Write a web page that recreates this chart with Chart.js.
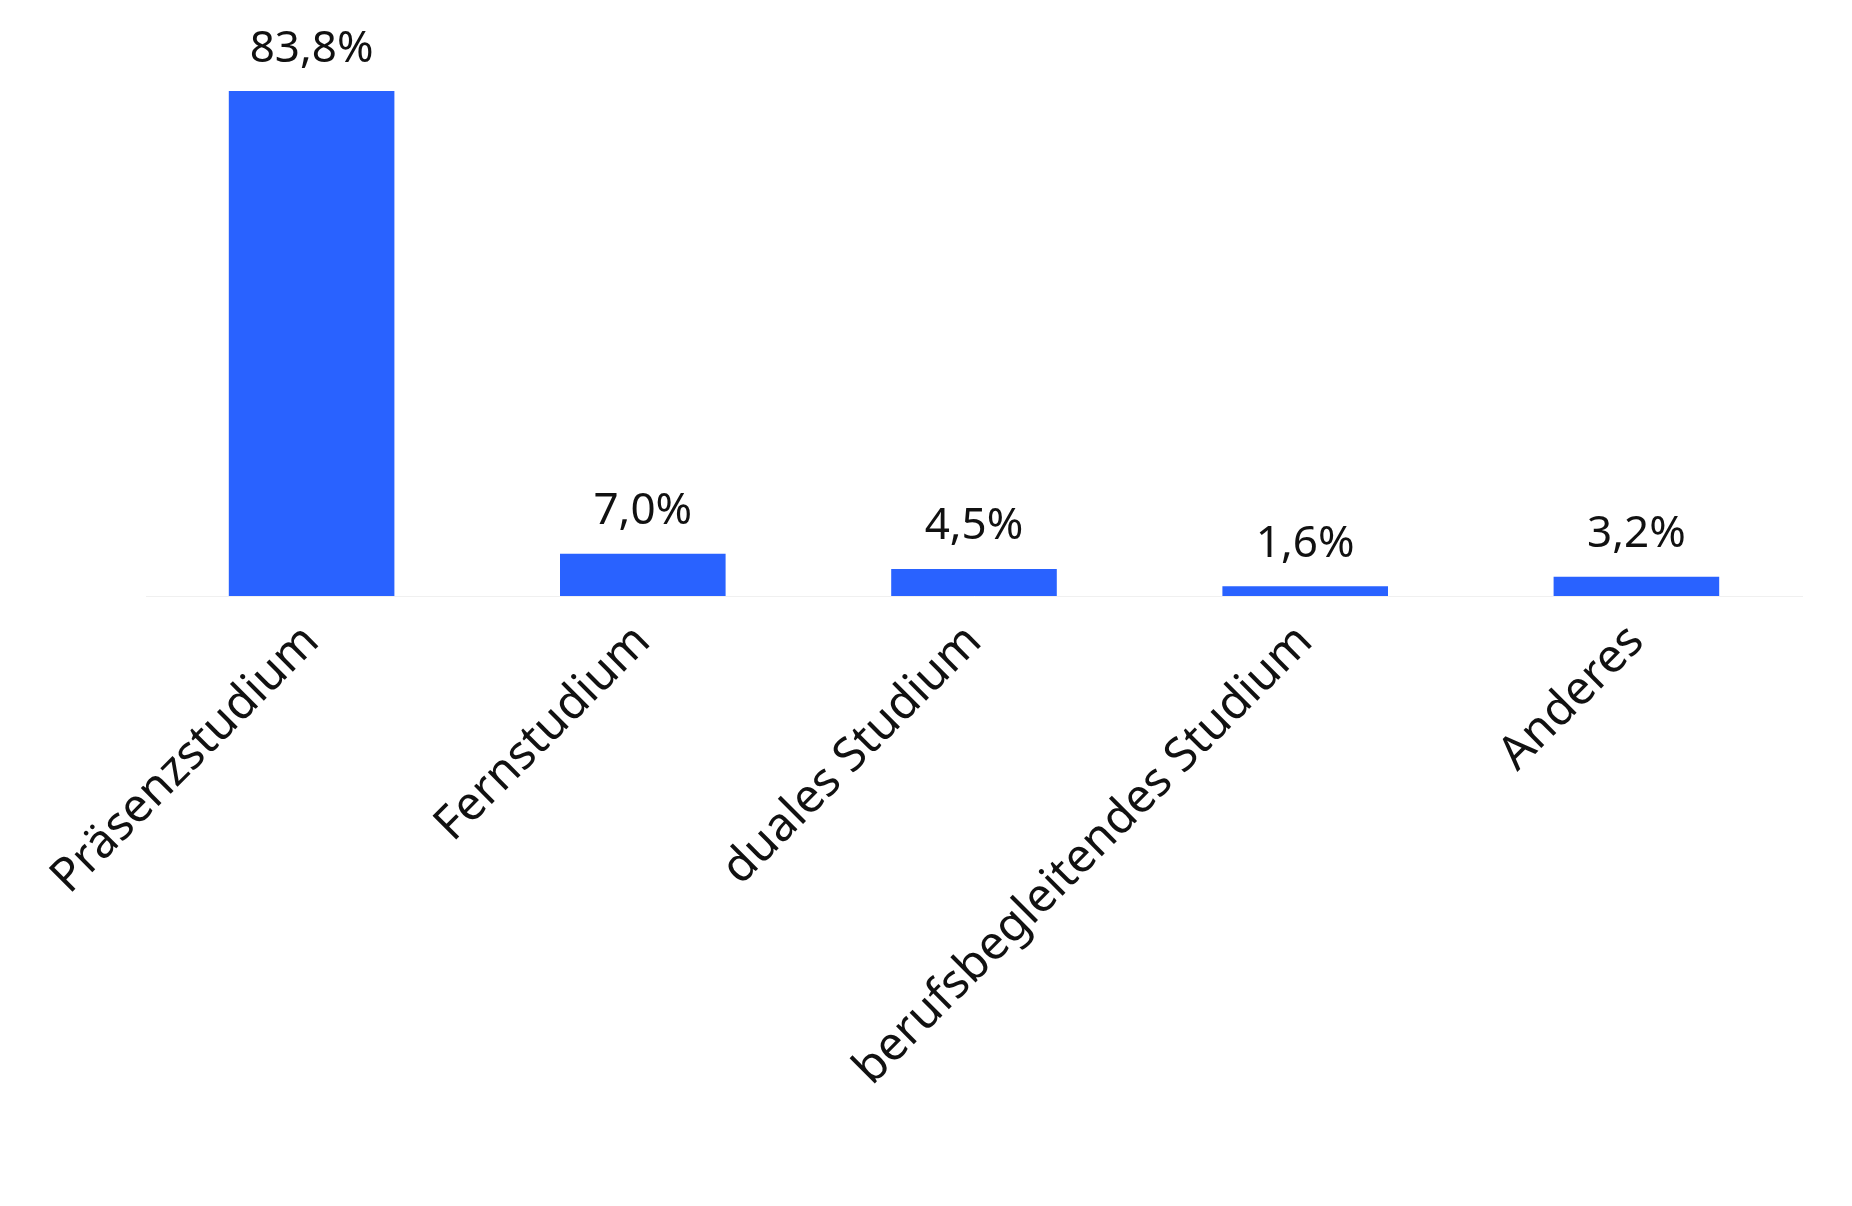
<!DOCTYPE html>
<html><head><meta charset="utf-8">
<script src="https://cdn.jsdelivr.net/npm/chart.js@4/dist/chart.umd.min.js"></script>
<style>html,body{margin:0;background:#fff}#wrap{width:1852px;height:1206px}</style>
</head><body><div id="wrap"><canvas id="c"></canvas></div>
<script>
const categories = ["Präsenzstudium", "Fernstudium", "duales Studium", "berufsbegleitendes Studium", "Anderes"];
const values = [83.8, 7.0, 4.5, 1.6, 3.2];
const valueLabels = ["83,8%", "7,0%", "4,5%", "1,6%", "3,2%"];

/* value labels above bars */
const topLabels = {
  id: "topLabels",
  afterDatasetsDraw(chart) {
    const ctx = chart.ctx;
    ctx.save();
    ctx.font = "44px 'Noto Sans'";
    ctx.fillStyle = "#111";
    ctx.textAlign = "center";
    ctx.textBaseline = "bottom";
    chart.getDatasetMeta(0).data.forEach((b, i) => {
      ctx.fillText(valueLabels[i], b.x, b.y - 20);
    });
    ctx.restore();
  }
};

new Chart(document.getElementById("c"), {
  type: "bar",
  data: { labels: categories, datasets: [{ data: values, backgroundColor: "#2962ff", barPercentage: 0.5, categoryPercentage: 1 }] },
  options: {
    responsive: true, maintainAspectRatio: false, animation: false,
    layout: { padding: { top: 91, left: 146, right: 50, bottom: 105 } },
    plugins: { legend: { display: false }, tooltip: { enabled: false } },
    scales: {
      y: { display: false, min: 0, max: 83.8 },
      x: {
        grid: { display: false },
        border: { color: "#f0f0f0", width: 1 },
        ticks: { color: "#111", font: { size: 47, family: "'Noto Sans'" }, maxRotation: 45, minRotation: 45, padding: 10 }
      }
    }
  },
  plugins: [topLabels]
});
</script></body></html>
